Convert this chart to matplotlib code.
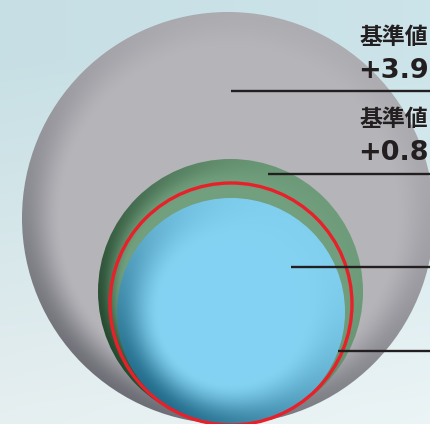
import numpy as np
import matplotlib
matplotlib.use("Agg")
import matplotlib.pyplot as plt
from matplotlib.patches import Circle

# ---- data ----
label_names = ["基準値", "基準値"]
label_values = ["+3.9", "+0.8"]
circle_names = ["gray", "green", "red", "blue"]
circle_radii = [206, 132.5, 121, 114]

W, H = 430, 424
fig = plt.figure(figsize=(W / 100, H / 100), dpi=100)
ax = fig.add_axes([0, 0, 1, 1])
ax.set_xlim(0, W)
ax.set_ylim(H, 0)
ax.set_aspect("auto")
ax.axis("off")

# background gradient
yy, xx = np.mgrid[0:H, 0:W]
t = yy / H
s = xx / W
top = np.array([0.78, 0.875, 0.895])
bot = np.array([0.91, 0.94, 0.945])
g = np.clip(t * 1.1 - 0.15, 0, 1)[..., None]
bg = top * (1 - g) + bot * g
bg = bg + (s[..., None] * 0.02)
bg = np.clip(bg, 0, 1)
ax.imshow(bg, extent=(0, W, H, 0), zorder=0, interpolation="bilinear")


def smoothstep(a, b, x):
    u = np.clip((x - a) / (b - a), 0, 1)
    return u * u * (3 - 2 * u)


def shaded_circle(cx, cy, R, base, dark, r0, rimbase, direction, z):
    n = int(2 * R * 2)
    ys, xs = np.mgrid[0:n, 0:n]
    px = cx - R + (xs + 0.5) / n * 2 * R
    py = cy - R + (ys + 0.5) / n * 2 * R
    dx, dy = px - cx, py - cy
    rn = np.sqrt(dx ** 2 + dy ** 2) / R
    d = np.array(direction, float)
    d /= np.linalg.norm(d)
    cosang = (dx * d[0] + dy * d[1]) / np.maximum(np.sqrt(dx ** 2 + dy ** 2), 1e-6)
    w = np.clip(0.5 + 0.5 * cosang, 0, 1) ** 1.5
    amt = smoothstep(r0, 1.0, rn) * (rimbase + (1 - rimbase) * w)
    base = np.array(base)
    dark = np.array(dark)
    img = base * (1 - amt[..., None]) + dark * amt[..., None]
    patch = Circle((cx, cy), R, facecolor="none", edgecolor="none", zorder=z)
    ax.add_patch(patch)
    im = ax.imshow(np.clip(img, 0, 1), extent=(cx - R, cx + R, cy + R, cy - R),
                   zorder=z, interpolation="bilinear")
    im.set_clip_path(patch)


def hexc(h):
    h = h.lstrip("#")
    return [int(h[i:i + 2], 16) / 255 for i in (0, 2, 4)]


# gray circle
shaded_circle(228, 218, circle_radii[0], hexc("#b5b5ba"), hexc("#6e6e76"),
              0.80, 0.12, (-0.5, 1.0), 2)
# green circle
shaded_circle(230.5, 291.5, circle_radii[1], hexc("#72a07e"), hexc("#264a30"),
              0.80, 0.05, (-1.0, 0.5), 3)
# blue circle
shaded_circle(231, 312, circle_radii[3], hexc("#84d3f3"), hexc("#246d8c"),
              0.62, 0.03, (-0.7, 0.8), 4)
# red ring
ax.add_patch(Circle((231, 304), circle_radii[2], facecolor="none",
                    edgecolor="#e8202a", lw=2.4, zorder=5))

# leader lines
lines_y = [91, 174, 267, 351]
lines_x0 = [231, 268, 291, 338]
for y0, x0 in zip(lines_y, lines_x0):
    ax.plot([x0, W + 5], [y0, y0], color="#231f20", lw=1.7, zorder=6,
            solid_capstyle="butt")

# text labels
name_y = [37, 120]
val_y = [70, 152]
for nm, v, yn, yv in zip(label_names, label_values, name_y, val_y):
    ax.text(359, yn, nm, fontsize=16.5, fontweight="bold",
            family=["Noto Sans CJK JP", "DejaVu Sans"], color="#231f20",
            va="center", ha="left", zorder=7)
    ax.text(358, yv + 1, v, fontsize=19.5, fontweight="bold",
            family=["DejaVu Sans"], color="#231f20",
            va="center", ha="left", zorder=7)

fig.savefig("out.png", dpi=100)
